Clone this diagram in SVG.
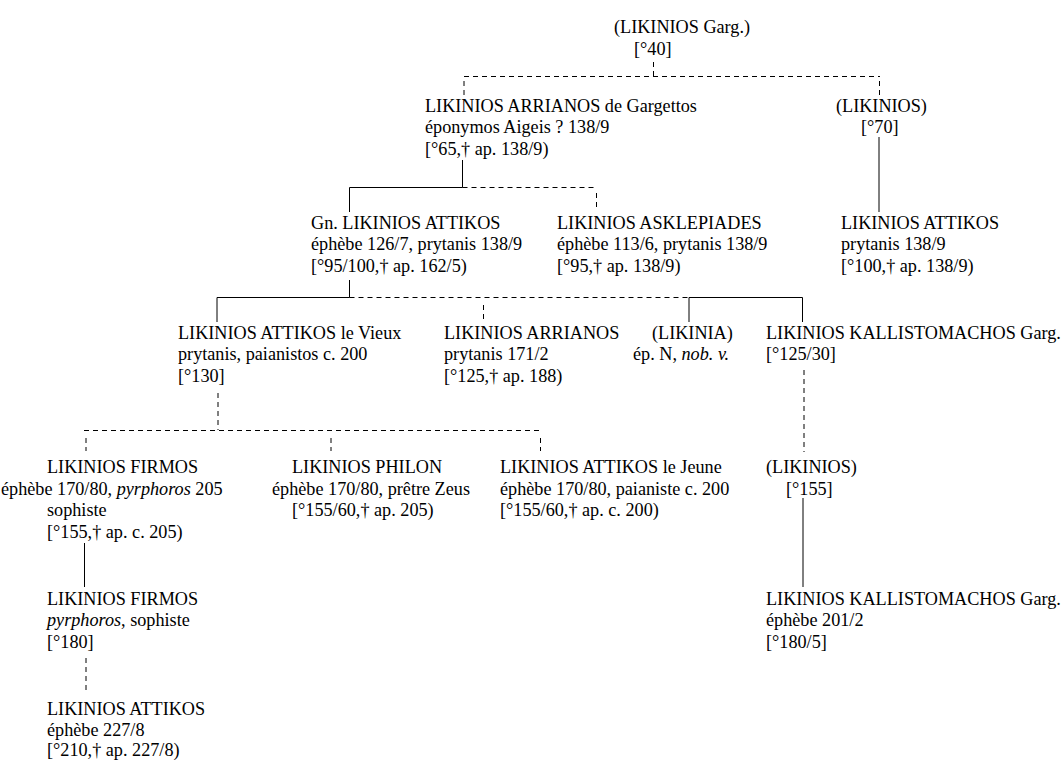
<svg xmlns="http://www.w3.org/2000/svg" width="1063" height="760" viewBox="0 0 1063 760">
<style>
text{font-family:"Liberation Serif","Times New Roman",serif;font-size:18.2px;fill:#000}
.i{font-style:italic}
.s{stroke:#000;stroke-width:1;fill:none}
.d{stroke:#000;stroke-width:1;fill:none;stroke-dasharray:5,4}
</style>
<rect width="1063" height="760" fill="#fff"/>
<g id="connectors">
<path class="d" d="M653.5,62V76"/>
<path class="d" d="M464,76.5H880"/>
<path class="d" d="M464,81V95M879.5,81V95"/>
<path class="s" d="M462.5,160V187.5H349.5V212"/>
<path class="d" d="M462.5,187.5H594"/>
<path class="d" d="M596.5,193V208"/>
<path class="s" d="M879,137V212"/>
<path class="s" d="M349.5,280V297.5H217V322"/>
<path class="d" d="M349.5,297.5H688.5"/>
<path class="s" d="M689,322V297.5H802.5V322"/>
<path class="d" d="M483.5,305V319"/>
<path class="d" d="M218,393V430"/>
<path class="d" d="M84,430.5H540"/>
<path class="d" d="M86,438V451M331,438V451M540.5,438V451"/>
<path class="d" d="M804,370V452"/>
<path class="s" d="M803,498V587"/>
<path class="s" d="M84.5,543V587"/>
<path class="d" d="M86,658V694"/>
</g>
<g id="n1"><text x="614" y="33">(LIKINIOS Garg.)</text><text x="634" y="54.7">[°40]</text></g>
<g id="n2"><text x="425" y="111.5">LIKINIOS ARRIANOS de Gargettos</text><text x="425" y="133.2">éponymos Aigeis ? 138/9</text><text x="425" y="154.9">[°65,† ap. 138/9)</text></g>
<g id="n3"><text x="836" y="111.5">(LIKINIOS)</text><text x="861" y="133.2">[°70]</text></g>
<g id="n4"><text x="311" y="228.5">Gn. LIKINIOS ATTIKOS</text><text x="311" y="250.2">éphèbe 126/7, prytanis 138/9</text><text x="311" y="271.9">[°95/100,† ap. 162/5)</text></g>
<g id="n5"><text x="557" y="228.5">LIKINIOS ASKLEPIADES</text><text x="557" y="250.2">éphèbe 113/6, prytanis 138/9</text><text x="557" y="271.9">[°95,† ap. 138/9)</text></g>
<g id="n6"><text x="841" y="228.5">LIKINIOS ATTIKOS</text><text x="841" y="250.2">prytanis 138/9</text><text x="841" y="271.9">[°100,† ap. 138/9)</text></g>
<g id="n7"><text x="178" y="338.5">LIKINIOS ATTIKOS le Vieux</text><text x="178" y="360.2">prytanis, paianistos c. 200</text><text x="178" y="381.9">[°130]</text></g>
<g id="n8"><text x="444" y="338.5">LIKINIOS ARRIANOS</text><text x="444" y="360.2">prytanis 171/2</text><text x="444" y="381.9">[°125,† ap. 188)</text></g>
<g id="n9"><text x="652" y="338.5">(LIKINIA)</text><text x="633" y="360.2">ép. N, <tspan class="i">nob. v.</tspan></text></g>
<g id="n10"><text x="766" y="338.5">LIKINIOS KALLISTOMACHOS Garg.</text><text x="766" y="360.2">[°125/30]</text></g>
<g id="n11"><text x="47" y="473">LIKINIOS FIRMOS</text><text x="1" y="494.7">éphèbe 170/80, <tspan class="i">pyrphoros</tspan> 205</text><text x="47" y="516.4">sophiste</text><text x="47" y="538.1">[°155,† ap. c. 205)</text></g>
<g id="n12"><text x="292" y="473">LIKINIOS PHILON</text><text x="272" y="494.7">éphèbe 170/80, prêtre Zeus</text><text x="292" y="516.4">[°155/60,† ap. 205)</text></g>
<g id="n13"><text x="500" y="473">LIKINIOS ATTIKOS le Jeune</text><text x="500" y="494.7">éphèbe 170/80, paianiste c. 200</text><text x="500" y="516.4">[°155/60,† ap. c. 200)</text></g>
<g id="n14"><text x="766" y="473">(LIKINIOS)</text><text x="786" y="494.7">[°155]</text></g>
<g id="n15"><text x="47" y="604.5">LIKINIOS FIRMOS</text><text x="47" y="626.2"><tspan class="i">pyrphoros</tspan>, sophiste</text><text x="47" y="647.9">[°180]</text></g>
<g id="n16"><text x="766" y="604.5">LIKINIOS KALLISTOMACHOS Garg.</text><text x="766" y="626.2">éphèbe 201/2</text><text x="766" y="647.9">[°180/5]</text></g>
<g id="n17"><text x="47" y="714.5">LIKINIOS ATTIKOS</text><text x="47" y="735.5">éphèbe 227/8</text><text x="47" y="755.5">[°210,† ap. 227/8)</text></g>
</svg>
